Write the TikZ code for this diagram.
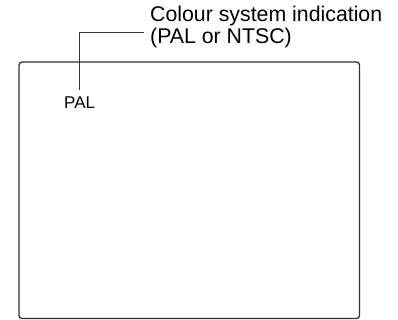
\documentclass[tikz,border=0pt]{standalone}
\usepackage{fontspec}
\setmainfont{Liberation Sans}
\usetikzlibrary{positioning}

\begin{document}
\begin{tikzpicture}
	[x=1pt,y=-1pt,
		screenbox/.style={draw=black!80, line width=1.3pt, rounded corners=3pt},
		leaderline/.style={draw=black!80, line width=1.1pt},
		labeltext/.style={inner sep=0pt, font=\fontsize{21.3}{21.5}\selectfont, align=left},
	]
	\useasboundingbox (0,0) rectangle (398,320);

	\node [labeltext, anchor=base west] (texttitlecolour) at (150,43.5) {Colour system indication\\(PAL or NTSC)};
	\node [labeltext, anchor=base west, font=\fontsize{17}{20}\selectfont] (textpal) at (64,109) {PAL};

	\draw [screenbox] (19,62) rectangle (359.5,318.5);

	\coordinate (leaderend) at (144,32.5);
	\coordinate (leaderfoot) at (79.5,90);
	\draw [leaderline] (leaderend) -| (leaderfoot);
\end{tikzpicture}
\end{document}
